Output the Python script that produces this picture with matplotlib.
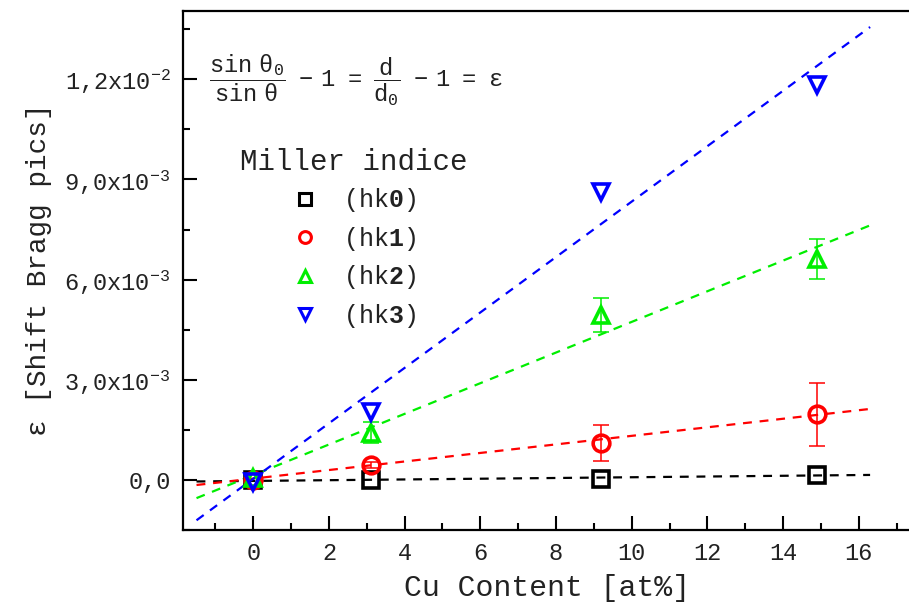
import numpy as np
import matplotlib
matplotlib.use("Agg")
import matplotlib.pyplot as plt
from matplotlib.lines import Line2D
from matplotlib.ticker import FixedLocator, FixedFormatter, MultipleLocator

plt.rcParams['font.family'] = ['Liberation Mono', 'DejaVu Sans']
plt.rcParams['mathtext.fontset'] = 'custom'
plt.rcParams['mathtext.rm'] = 'Liberation Mono'
plt.rcParams['mathtext.it'] = 'Liberation Mono'
plt.rcParams['mathtext.bf'] = 'Liberation Mono:bold'
plt.rcParams['mathtext.default'] = 'regular'

# data
cu_content = [0.0, 3.1, 9.2, 14.9]
labels = ["(hk$\\mathbf{0}$)", "(hk$\\mathbf{1}$)", "(hk$\\mathbf{2}$)", "(hk$\\mathbf{3}$)"]
colors = ["black", "#ff0000", "#00ee00", "#0000ff"]
markers = ["s", "o", "^", "v"]

eps_hk0 = [0.0, 0.0, 0.03e-3, 0.15e-3]
eps_hk1 = [0.0, 0.45e-3, 1.10e-3, 1.97e-3]
eps_hk2 = [0.05e-3, 1.42e-3, 4.94e-3, 6.62e-3]
eps_hk3 = [-0.05e-3, 2.04e-3, 8.63e-3, 11.83e-3]

err_hk0 = [0.0, 0.0, 0.0, 0.0]
err_hk1 = [0.0, 0.1e-3, 0.53e-3, 0.94e-3]
err_hk2 = [0.0, 0.3e-3, 0.5e-3, 0.61e-3]
err_hk3 = [0.0, 0.0, 0.0, 0.0]

# linear fits (slope, intercept) as drawn
fit_slope = [0.011e-3, 0.128e-3, 0.459e-3, 0.830e-3]
fit_intercept = [-0.03e-3, 0.04e-3, 0.143e-3, 0.036e-3]
fit_range = [-1.5, 16.3]

ytick_values = [0.0, 3e-3, 6e-3, 9e-3, 1.2e-2]
ytick_labels = ["0,0", "3,0x10$^{-3}$", "6,0x10$^{-3}$", "9,0x10$^{-3}$", "1,2x10$^{-2}$"]

series = [eps_hk0, eps_hk1, eps_hk2, eps_hk3]
errors = [err_hk0, err_hk1, err_hk2, err_hk3]

text_color = "#222222"

fig = plt.figure(figsize=(9.09, 6.08), dpi=100)
ax = fig.add_axes([183 / 909, 78 / 608, 1 - 183 / 909 + 0.003, (530 - 10.5) / 608])

xfit = np.array(fit_range)
handles = []
for i in range(4):
    ax.plot(xfit, fit_slope[i] * xfit + fit_intercept[i], ls=(0, (4, 3.5)),
            color=colors[i], lw=1.6, zorder=2)

for i in range(4):
    x = np.array(cu_content)
    y = np.array(series[i])
    e = np.array(errors[i])
    m = e > 0
    if m.any():
        ax.errorbar(x[m], y[m], yerr=e[m], fmt='none', ecolor=colors[i],
                    elinewidth=1.1, capsize=5.5, capthick=1.1, zorder=3)
    ax.plot(x, y, ls='none', marker=markers[i], ms=12, mfc='none',
            mec=colors[i], mew=2.6, zorder=4)
    handles.append(Line2D([], [], ls='none', marker=markers[i], ms=8.5,
                          mfc='none', mec=colors[i], mew=2.2))

ax.set_xlim(-1.857, 17.4)
ax.set_ylim(-1.50e-3, 14.06e-3)

ax.xaxis.set_major_locator(MultipleLocator(2))
ax.xaxis.set_minor_locator(MultipleLocator(1))
ax.yaxis.set_major_locator(FixedLocator(ytick_values))
ax.yaxis.set_major_formatter(FixedFormatter(ytick_labels))
ax.yaxis.set_minor_locator(MultipleLocator(1.5e-3))

ax.tick_params(which='both', direction='in', top=False, right=False,
               labelsize=17, labelcolor=text_color, width=1.5)
ax.tick_params(which='major', length=10, pad=9)
ax.tick_params(which='minor', length=5)
for s in ax.spines.values():
    s.set_linewidth(1.6)

ax.set_xlabel("Cu Content [at%]", fontsize=21.5, color=text_color, labelpad=6)
ax.set_ylabel("ε [Shift Bragg pics]", fontsize=20, color=text_color, labelpad=9)

ax.text(0.035, 0.865,
        r"$\dfrac{\sin\ \theta_0}{\sin\ \theta}\ \ -\ 1\ \ =\ \ \dfrac{d}{d_0}\ \ -\ 1\ \ =\ \ ε$",
        transform=ax.transAxes, fontsize=17, color=text_color, va='center', ha='left')

leg = ax.legend(handles, labels, title="Miller indice", loc='upper left',
                bbox_to_anchor=(0.065, 0.755), frameon=False, fontsize=18,
                title_fontsize=21, handlelength=1.0, handletextpad=1.0,
                labelspacing=0.42, borderaxespad=0)
leg.get_title().set_color(text_color)
for t in leg.get_texts():
    t.set_color(text_color)

fig.savefig("out.png", dpi=100)
